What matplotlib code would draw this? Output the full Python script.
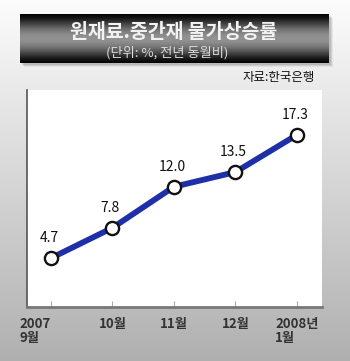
import matplotlib
matplotlib.use("Agg")
import matplotlib.pyplot as plt
import numpy as np
from matplotlib.patches import Rectangle

plt.rcParams['font.family'] = ['Noto Sans CJK KR', 'DejaVu Sans']

categories = ["2007\n9월", "10월", "11월", "12월", "2008년\n1월"]
values = [4.7, 7.8, 12.0, 13.5, 17.3]
value_labels = ["4.7", "7.8", "12.0", "13.5", "17.3"]
title = "원재료.중간재 물가상승률"
subtitle = "(단위: %, 전년 동월비)"
source = "자료:한국은행"

W, H = 350, 361
fig = plt.figure(figsize=(W / 100, H / 100), dpi=100)

# background gradient
bg = fig.add_axes([0, 0, 1, 1])
grad = np.linspace(0, 1, 256).reshape(-1, 1)
top = np.array([0.99, 0.99, 0.99])
bot = np.array([0.69, 0.69, 0.69])
img = top + (bot - top) * grad[..., None]
img = np.repeat(img, 2, axis=1)
bg.imshow(img, aspect='auto', extent=[0, W, H, 0])

# title box shadow
for i, a in enumerate([0.10, 0.08, 0.06]):
    bg.add_patch(Rectangle((22 + i, 16 + i), 309, 49, facecolor='black', alpha=a, lw=0))
# title box gradient
g = 0.02 + 0.55 * np.sin(np.linspace(0, np.pi, 128)) ** 1.5
box = np.repeat(g.reshape(-1, 1), 2, axis=1)
bg.imshow(np.dstack([box, box, box]), aspect='auto', extent=[20, 329, 63, 14], zorder=3)
bg.set_xlim(0, W)
bg.set_ylim(H, 0)
bg.axis('off')
bg.text(174, 32, title, color='#f2f2f2', fontsize=14, fontweight='bold',
        ha='center', va='center', zorder=4)
bg.text(167, 53, subtitle, color='#dddddd', fontsize=9.5,
        ha='center', va='center', zorder=4)
bg.text(315, 78, source, color='#111111', fontsize=9, ha='right', va='center')

# plot area
ax = fig.add_axes([27 / W, (H - 307) / H, 295 / W, 217 / H])
ax.set_facecolor('white')
x = np.arange(len(values))
ax.plot(x, values, color='#1f2fa8', lw=4.2, solid_capstyle='round', zorder=2)
ax.plot(x, values, 'o', ms=9.5, mfc='white', mec='#111111', mew=1.7, zorder=3)
for xi, v, lab in zip(x, values, value_labels):
    ax.annotate(lab, (xi, v), xytext=(-2, 20), textcoords='offset pixels',
                ha='center', va='center', fontsize=10, color='#111111')

ax.set_xlim(-0.39, 4.41)
ax.set_ylim(-0.3, 21.9)
ax.set_yticks([])
ax.set_xticks(x)
ax.set_xticklabels(categories, fontsize=9.5, fontweight='bold', color='#333333',
                   multialignment='left', linespacing=1.0)
labs = ax.get_xticklabels()
labs[0].set_ha('right')
ax.tick_params(axis='x', direction='in', length=4, color='#aaaaaa', pad=7)
for s in ['top', 'right']:
    ax.spines[s].set_visible(False)
ax.spines['left'].set_color('#555555')
ax.spines['left'].set_linewidth(1.2)
ax.spines['bottom'].set_color('#777777')
ax.spines['bottom'].set_linewidth(2)

fig.savefig('out.png', dpi=100)
